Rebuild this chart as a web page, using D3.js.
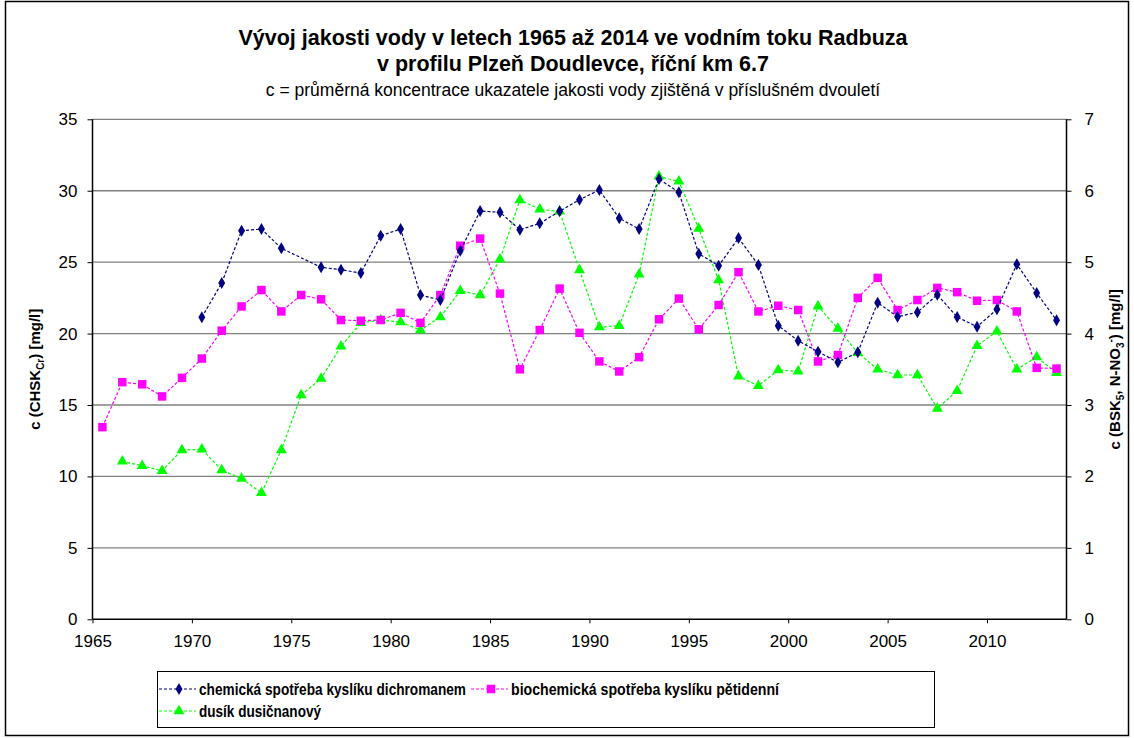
<!DOCTYPE html>
<html>
<head>
<meta charset="utf-8">
<script src="https://cdn.jsdelivr.net/npm/d3@7"></script>
<style>
  html, body { margin: 0; padding: 0; background: #fff; }
  svg { display: block; font-family: Arial, "Liberation Sans", sans-serif; }
</style>
</head>
<body>
<svg id="chart" width="1134" height="738"></svg>
<script>
// Period start years (each value is plotted at the middle of its year)
const years = d3.range(1965, 2014);

// CHSK_Cr [mg/l] from 1970, no value for 1975 (left axis)
const chskYears = d3.range(1970, 2014);
const chsk = [21.14, 23.54, 27.2, 27.32, 25.97, null, 24.64, 24.47, 24.24, 26.85,
  27.32, 22.7, 22.35, 25.8, 28.58, 28.49, 27.27, 27.72, 28.56, 29.37,
  30.05, 28.07, 27.32, 30.82, 29.89, 25.59, 24.75, 26.69, 24.8, 20.55,
  19.5, 18.73, 17.99, 18.69, 22.16, 21.18, 21.49, 22.72, 21.16, 20.48,
  21.7, 24.85, 22.84, 20.93];

// BSK5 [mg/l] from 1965 (right axis)
const bsk = [2.69, 3.32, 3.29, 3.12, 3.38, 3.65, 4.04, 4.38, 4.61, 4.31,
  4.54, 4.48, 4.19, 4.18, 4.19, 4.29, 4.15, 4.54, 5.23, 5.33,
  4.56, 3.50, 4.05, 4.63, 4.01, 3.61, 3.47, 3.67, 4.20, 4.49,
  4.06, 4.40, 4.86, 4.31, 4.39, 4.33, 3.61, 3.70, 4.50, 4.78,
  4.33, 4.47, 4.64, 4.58, 4.46, 4.47, 4.31, 3.52, 3.51];

// N-NO3 [mg/l] from 1966 (right axis)
const nno3Years = d3.range(1966, 2014);
const nno3 = [2.21, 2.15, 2.08, 2.37, 2.38, 2.09, 1.97, 1.77, 2.37,
  3.14, 3.37, 3.82, 4.15, 4.19, 4.16, 4.05, 4.23, 4.60, 4.54,
  5.04, 5.87, 5.74, 5.71, 4.89, 4.09, 4.11, 4.83, 6.20, 6.13,
  5.47, 4.75, 3.40, 3.27, 3.49, 3.47, 4.38, 4.07, 3.73, 3.50,
  3.42, 3.42, 2.95, 3.20, 3.83, 4.03, 3.50, 3.67, 3.45];

const xTicks = [1965, 1970, 1975, 1980, 1985, 1990, 1995, 2000, 2005, 2010];
const leftTicks = [0, 5, 10, 15, 20, 25, 30, 35];
const rightTicks = [0, 1, 2, 3, 4, 5, 6, 7];

const seriesNames = [
  "chemická spotřeba kyslíku dichromanem",
  "biochemická spotřeba kyslíku pětidenní",
  "dusík dusičnanový"
];

const svg = d3.select("#chart");
const W = 1134, H = 738;
const plot = { left: 92.5, right: 1066.5, top: 119.3, bottom: 619.3 };

// outer frame
svg.append("rect")
  .attr("x", 5.5).attr("y", 1.5).attr("width", W - 11).attr("height", H - 4)
  .attr("fill", "#fff").attr("stroke", "#000").attr("stroke-width", 1.5);

const x = d3.scaleLinear().domain([1965, 2014]).range([plot.left, plot.right]);
const yL = d3.scaleLinear().domain([0, 35]).range([plot.bottom, plot.top]);
const yR = d3.scaleLinear().domain([0, 7]).range([plot.bottom, plot.top]);

// horizontal gridlines
svg.append("g")
  .selectAll("line").data(leftTicks.filter(d => d > 0)).join("line")
  .attr("x1", plot.left).attr("x2", plot.right)
  .attr("y1", d => yL(d)).attr("y2", d => yL(d))
  .attr("stroke", "#808080").attr("stroke-width", 1.3);

// axes
const axBottom = svg.append("g").attr("transform", `translate(0,${plot.bottom})`)
  .call(d3.axisBottom(x).tickValues(xTicks).tickFormat(d3.format("d")).tickSize(4).tickPadding(12));
const axLeft = svg.append("g").attr("transform", `translate(${plot.left},0)`)
  .call(d3.axisLeft(yL).tickValues(leftTicks).tickFormat(d3.format("d")).tickSize(5).tickPadding(10));
const axRight = svg.append("g").attr("transform", `translate(${plot.right},0)`)
  .call(d3.axisRight(yR).tickValues(rightTicks).tickFormat(d3.format("d")).tickSize(5).tickPadding(13));

[axBottom, axLeft, axRight].forEach(g => {
  g.select(".domain").attr("stroke", "#000").attr("stroke-width", 1.5);
  g.selectAll(".tick line").attr("stroke", "#000").attr("stroke-width", 1);
  g.selectAll(".tick text").attr("fill", "#000")
    .style("font-size", "17px").style("font-family", "Arial, 'Liberation Sans', sans-serif");
});
axLeft.select(".domain").attr("d", `M0,${plot.bottom}V${plot.top}`);
axRight.select(".domain").attr("d", `M0,${plot.bottom}V${plot.top}`);
axBottom.select(".domain").attr("d", `M${plot.left},0H${plot.right}`);

// titles
const titleX = 573;
svg.append("text").attr("x", titleX).attr("y", 45).attr("text-anchor", "middle")
  .style("font-size", "21.5px").style("font-weight", "bold")
  .text("Vývoj jakosti vody v letech 1965 až 2014 ve vodním toku Radbuza");
svg.append("text").attr("x", titleX).attr("y", 71).attr("text-anchor", "middle")
  .style("font-size", "21.5px").style("font-weight", "bold")
  .text("v profilu Plzeň Doudlevce, říční km 6.7");
svg.append("text").attr("x", titleX).attr("y", 96).attr("text-anchor", "middle")
  .style("font-size", "17.5px")
  .text("c = průměrná koncentrace ukazatele jakosti vody zjištěná v příslušném dvouletí");

// axis titles
const lt = svg.append("text")
  .attr("transform", `translate(40,${(plot.top + plot.bottom) / 2}) rotate(-90)`)
  .attr("text-anchor", "middle").style("font-size", "15px").style("font-weight", "bold");
lt.append("tspan").text("c (CHSK");
lt.append("tspan").attr("dy", 4).style("font-size", "10px").text("Cr");
lt.append("tspan").attr("dy", -4).text(") [mg/l]");

const rt = svg.append("text")
  .attr("transform", `translate(1120,${(plot.top + plot.bottom) / 2}) rotate(-90)`)
  .attr("text-anchor", "middle").style("font-size", "15px").style("font-weight", "bold");
rt.append("tspan").text("c (BSK");
rt.append("tspan").attr("dy", 4).style("font-size", "10px").text("5");
rt.append("tspan").attr("dy", -4).text(", N-NO");
rt.append("tspan").attr("dy", 4).style("font-size", "10px").text("3");
rt.append("tspan").attr("dy", -10).style("font-size", "10px").text("-");
rt.append("tspan").attr("dy", 6).text(") [mg/l]");

// markers
const symDiamond = d3.symbol().type(d3.symbolDiamond).size(42);
const symSquare = d3.symbol().type(d3.symbolSquare).size(72);
const symTriangle = d3.symbol().type(d3.symbolTriangle).size(52);

const series = [
  { name: seriesNames[0], yrs: chskYears, vals: chsk, y: yL, color: "#000080", sym: symDiamond },
  { name: seriesNames[1], yrs: years, vals: bsk, y: yR, color: "#FF00FF", sym: symSquare },
  { name: seriesNames[2], yrs: nno3Years, vals: nno3, y: yR, color: "#00FF00", sym: symTriangle }
];

// draw order: green underneath, then pink, then navy on top
const drawOrder = [series[2], series[1], series[0]];
drawOrder.forEach(s => {
  const pts = s.yrs.map((yr, i) => ({ yr, v: s.vals[i] })).filter(d => d.v != null);
  const line = d3.line().x(d => x(d.yr + 0.5)).y(d => s.y(d.v));
  svg.append("path").datum(pts).attr("d", line)
    .attr("fill", "none").attr("stroke", s.color).attr("stroke-width", 1.2)
    .attr("stroke-dasharray", "3,2");
  svg.append("g").selectAll("path").data(pts).join("path")
    .attr("transform", d => `translate(${x(d.yr + 0.5)},${s.y(d.v)})`)
    .attr("d", s.sym()).attr("fill", s.color);
});

// legend
const lg = svg.append("g");
lg.append("rect").attr("x", 157.5).attr("y", 671.5).attr("width", 777).attr("height", 56)
  .attr("fill", "#fff").attr("stroke", "#000").attr("stroke-width", 1);
const legendItems = [
  { s: series[0], x: 158, y: 689, w: 267 },
  { s: series[1], x: 470, y: 689, w: 268 },
  { s: series[2], x: 158, y: 711, w: 122 }
];
legendItems.forEach(it => {
  lg.append("line").attr("x1", it.x + 1).attr("x2", it.x + 38).attr("y1", it.y).attr("y2", it.y)
    .attr("stroke", it.s.color).attr("stroke-width", 1.2).attr("stroke-dasharray", "3,2");
  lg.append("path").attr("transform", `translate(${it.x + 21},${it.y})`)
    .attr("d", it.s.sym()).attr("fill", it.s.color);
  lg.append("text").attr("x", it.x + 41).attr("y", it.y + 6)
    .attr("textLength", it.w).attr("lengthAdjust", "spacingAndGlyphs")
    .style("font-size", "16.5px").style("font-weight", "bold")
    .text(it.s.name);
});
</script>
</body>
</html>
